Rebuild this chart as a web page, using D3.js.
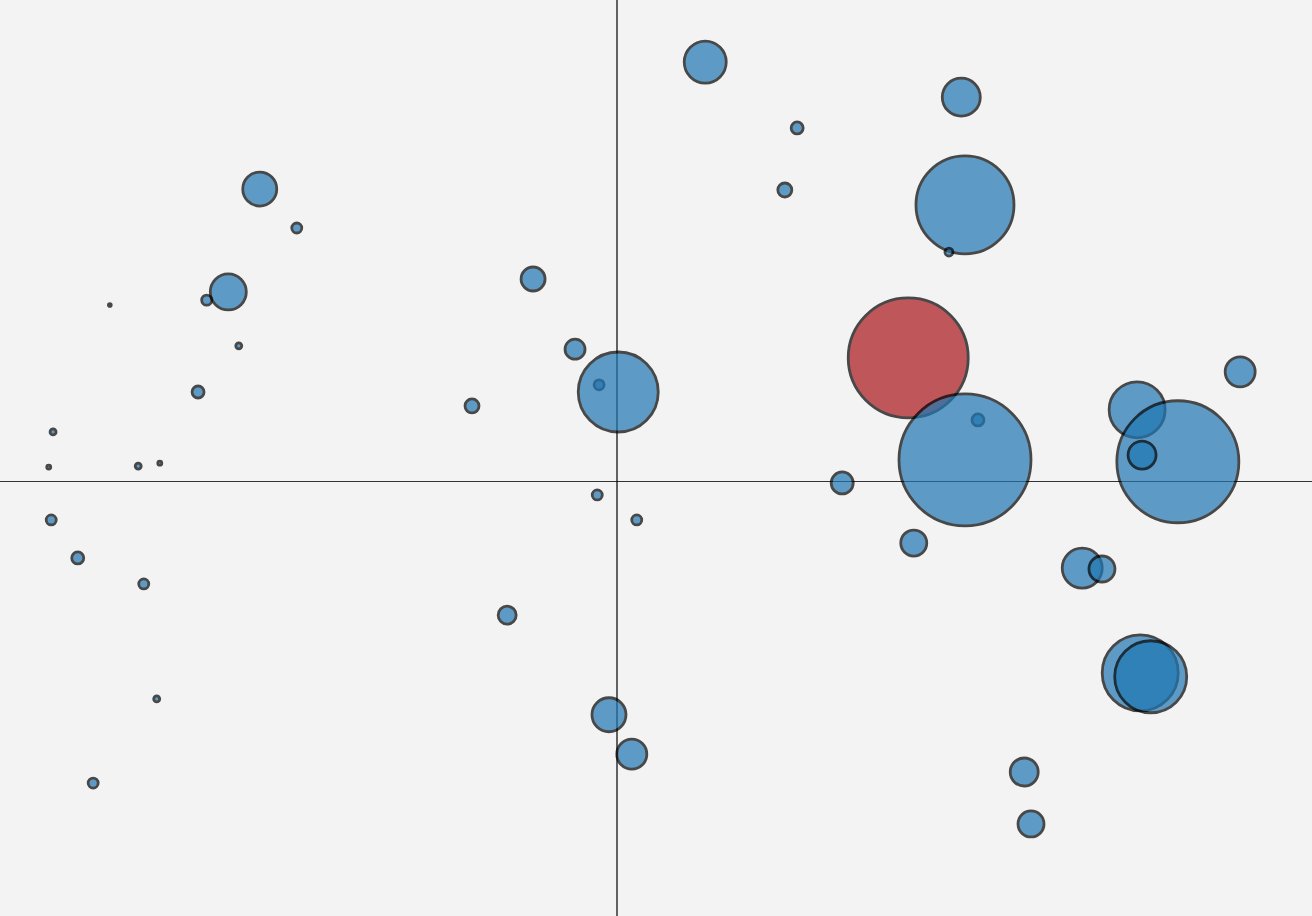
<!DOCTYPE html>
<html>
<head>
<meta charset="utf-8">
<script src="https://cdnjs.cloudflare.com/ajax/libs/d3/7.8.5/d3.min.js"></script>
<style>
	html, body { margin: 0; padding: 0; background: #f3f3f3; overflow: hidden; }
	svg { display: block; }
</style>
</head>
<body>
<div id="bubble-chart"></div>
<script>
// Bubble chart data (x, y, size, group), in drawing order
const xValues = [
	1.43, 5.58, 2.92, 2.72, 5.64, 5.38, -5.79, -5.19, -6.30, -6.65,
	-8.22, -6.13, -6.79, -1.36, -0.68, -0.29, 0.02, -2.35, 5.85, 4.72,
	5.64, 10.10, 8.43, 9.09, 8.51, 3.65, 4.81, 7.54, 7.86, 8.48,
	8.65, 6.60, 6.71, -0.13, 0.24, -1.78, -0.32, 0.32, -9.14, -9.21,
	-7.76, -7.41, -9.17, -8.74, -7.67, -7.46, -8.49
];
const yValues = [
	8.71, 7.98, 7.34, 6.05, 5.74, 4.76, 6.07, 5.26, 3.93, 3.76,
	3.66, 2.81, 1.85, 4.20, 2.74, 2.00, 1.85, 1.56, 1.27, 2.56,
	0.44, 2.27, 1.48, 0.40, 0.54, -0.04, -1.29, -1.81, -1.83, -3.99,
	-4.07, -6.05, -7.13, -4.86, -5.68, -2.79, -0.29, -0.81, 1.02, 0.29,
	0.31, 0.37, -0.81, -1.60, -2.14, -4.53, -6.28
];
const sizes = [
	441, 361, 36, 49, 2401, 16, 289, 25, 324, 25,
	2, 9, 36, 144, 100, 25, 1600, 49, 36, 3600,
	4356, 225, 784, 3721, 196, 121, 169, 400, 169, 1444,
	1296, 196, 169, 289, 225, 81, 25, 25, 9, 4,
	9, 4, 25, 36, 25, 9, 25
];
const groups = xValues.map((d, i) => i === 19 ? "highlight" : "normal");

const colors = { normal: "#1f77b4", highlight: "#a8141a" };

(function (d3) {
	"use strict";
	const width = 1312;
	const height = 916;

	const data = xValues.map((x, i) => ({
		x: x, y: yValues[i], size: sizes[i], group: groups[i]
	}));

	const svg = d3.select("#bubble-chart")
		.append("svg")
		.attr("width", width)
		.attr("height", height);

	svg.append("rect")
		.attr("width", width)
		.attr("height", height)
		.attr("fill", "#f3f3f3");

	// scales
	const xScale = d3.scaleLinear().domain([-10, 10]).range([0, 1234]);
	const yScale = d3.scaleLinear().domain([-10, 10]).range([962, 0]);
	const rScale = d3.scaleSqrt().domain([0, 4356]).range([0, 66]);

	// axes through the origin
	svg.append("line")
		.attr("x1", 0).attr("x2", width)
		.attr("y1", Math.round(yScale(0)) + 0.5).attr("y2", Math.round(yScale(0)) + 0.5)
		.attr("stroke", "#333")
		.attr("stroke-width", 1);
	svg.append("line")
		.attr("x1", xScale(0)).attr("x2", xScale(0))
		.attr("y1", 0).attr("y2", height)
		.attr("stroke", "#000")
		.attr("stroke-width", 1.2);

	// bubbles
	svg.append("g")
		.attr("class", "bubbles")
		.selectAll("circle")
		.data(data)
		.enter()
		.append("circle")
		.attr("cx", d => xScale(d.x))
		.attr("cy", d => yScale(d.y))
		.attr("r", d => rScale(d.size))
		.attr("fill", d => colors[d.group])
		.attr("stroke", "#000")
		.attr("stroke-width", 2.8)
		.attr("opacity", 0.7);
})(d3);
</script>
</body>
</html>
